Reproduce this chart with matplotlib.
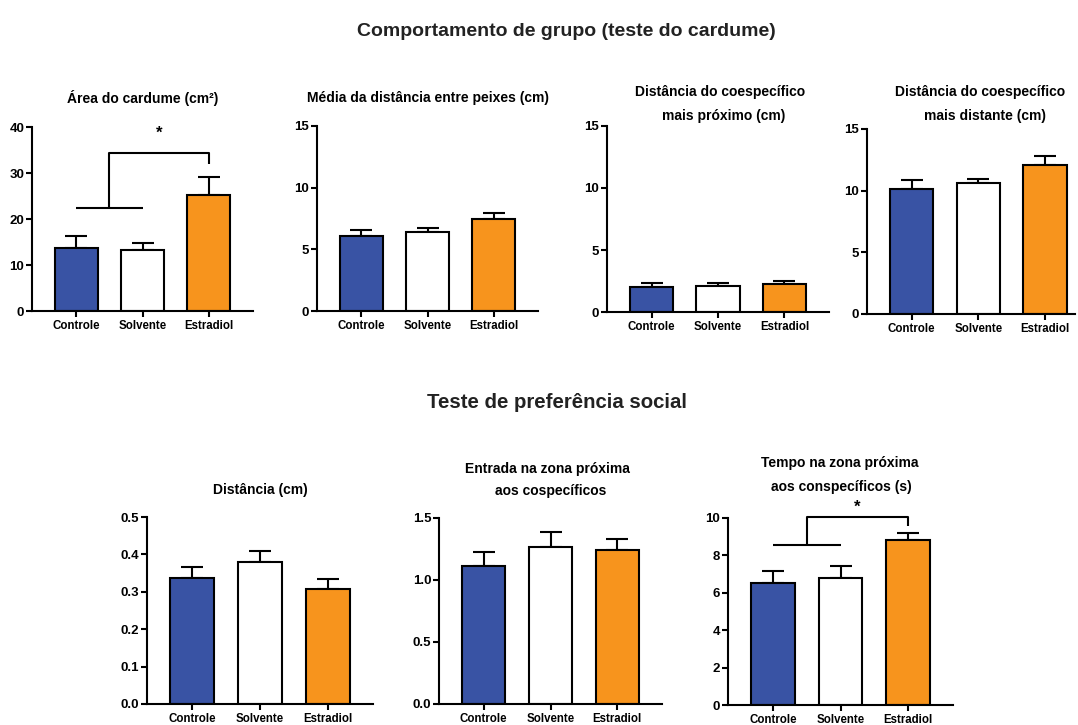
import matplotlib
matplotlib.use("Agg")
import matplotlib.pyplot as plt

plt.rcParams['font.family'] = ['Liberation Sans', 'DejaVu Sans']
plt.rcParams['font.weight'] = 'bold'

W, H = 1078, 725

groups = ["Controle", "Solvente", "Estradiol"]
bar_colors = ["#3953a4", "#ffffff", "#f7941d"]

# Shoal test (means and upper SEM)
area_mean = [13.6, 13.2, 25.3]
area_sem = [2.8, 1.6, 3.8]
mean_dist_mean = [6.1, 6.4, 7.45]
mean_dist_sem = [0.47, 0.3, 0.52]
nearest_mean = [2.02, 2.08, 2.28]
nearest_sem = [0.3, 0.22, 0.2]
farthest_mean = [10.1, 10.6, 12.1]
farthest_sem = [0.78, 0.36, 0.72]

# Social preference test
distance_mean = [0.337, 0.380, 0.308]
distance_sem = [0.029, 0.029, 0.027]
entries_mean = [1.115, 1.27, 1.244]
entries_sem = [0.107, 0.115, 0.083]
time_mean = [6.52, 6.78, 8.84]
time_sem = [0.65, 0.63, 0.36]

fig = plt.figure(figsize=(W / 100, H / 100), dpi=100)


def px_axes(left, right, bottom, top):
    return fig.add_axes([left / W, 1 - bottom / H, (right - left) / W, (bottom - top) / H])


def fig_text(x, y, s, size, **kw):
    fig.text(x / W, 1 - y / H, s, ha='center', va='center', fontsize=size,
             fontweight='bold', **kw)


def bar_panel(ax, means, sems, ymax, yticks, ticklabels, xright=2.67):
    x = list(range(len(groups)))
    ax.bar(x, means, width=0.65, color=bar_colors, edgecolor='black',
           linewidth=1.5, zorder=2)
    ax.errorbar(x, means, yerr=[[0] * len(sems), sems], fmt='none',
                ecolor='black', elinewidth=1.5, capsize=8, capthick=1.5, zorder=1)
    ax.set_xlim(-0.67, xright)
    ax.set_ylim(0, ymax)
    ax.set_xticks(x)
    ax.set_xticklabels(groups, fontsize=8.3, fontweight='bold')
    ax.set_yticks(yticks)
    ax.set_yticklabels(ticklabels, fontsize=9.5, fontweight='bold')
    for side in ('top', 'right'):
        ax.spines[side].set_visible(False)
    for side in ('left', 'bottom'):
        ax.spines[side].set_linewidth(1.5)
    ax.tick_params(axis='both', width=1.5, length=4, pad=1.5)
    ax.tick_params(axis='x', pad=2.5)
    ax.patch.set_alpha(0)


def bracket(ax, low_y, top_y, drop_y, star_y):
    kw = dict(color='black', lw=1.5, solid_capstyle='butt', clip_on=False)
    ax.plot([0, 1], [low_y, low_y], **kw)
    ax.plot([0.5, 0.5, 2, 2], [low_y, top_y, top_y, drop_y], **kw)
    ax.text(1.25, star_y, '*', ha='center', va='center', fontsize=12,
            fontweight='bold', clip_on=False)


# --- Comportamento de grupo ---
ax1 = px_axes(32, 253, 311, 127)
bar_panel(ax1, area_mean, area_sem, 40, [0, 10, 20, 30, 40],
          ['0', '10', '20', '30', '40'])
bracket(ax1, 22.4, 34.4, 32.0, 38.6)

ax2 = px_axes(317, 538, 311, 126)
bar_panel(ax2, mean_dist_mean, mean_dist_sem, 15, [0, 5, 10, 15],
          ['0', '5', '10', '15'])

ax3 = px_axes(607, 829, 312, 126)
bar_panel(ax3, nearest_mean, nearest_sem, 15, [0, 5, 10, 15],
          ['0', '5', '10', '15'])

ax4 = px_axes(867, 1075, 314, 129)
bar_panel(ax4, farthest_mean, farthest_sem, 15, [0, 5, 10, 15],
          ['0', '5', '10', '15'], xright=2.45)

# --- Teste de preferência social ---
ax5 = px_axes(147, 373, 704, 517)
bar_panel(ax5, distance_mean, distance_sem, 0.5, [0, 0.1, 0.2, 0.3, 0.4, 0.5],
          ['0.0', '0.1', '0.2', '0.3', '0.4', '0.5'])

ax6 = px_axes(439, 662, 704, 518)
bar_panel(ax6, entries_mean, entries_sem, 1.5, [0, 0.5, 1.0, 1.5],
          ['0.0', '0.5', '1.0', '1.5'])

ax7 = px_axes(728, 953, 705, 518)
bar_panel(ax7, time_mean, time_sem, 10, [0, 2, 4, 6, 8, 10],
          ['0', '2', '4', '6', '8', '10'])
bracket(ax7, 8.57, 10.04, 9.55, 10.55)

# Section headings
fig_text(566, 31, 'Comportamento de grupo (teste do cardume)', 14, color='#222222')
fig_text(557, 403, 'Teste de preferência social', 14.7, color='#222222')

# Panel titles
fig_text(143, 98, 'Área do cardume (cm²)', 10)
fig_text(428, 98, 'Média da distância entre peixes (cm)', 10)
fig_text(720, 92, 'Distância do coespecífico', 10)
fig_text(724, 116, 'mais próximo (cm)', 10)
fig_text(980, 92, 'Distância do coespecífico', 10)
fig_text(985, 116, 'mais distante (cm)', 10)
fig_text(260, 490, 'Distância (cm)', 10)
fig_text(547, 469, 'Entrada na zona próxima', 10)
fig_text(551, 491, 'aos cospecíficos', 10)
fig_text(840, 463, 'Tempo na zona próxima', 10)
fig_text(841, 487, 'aos conspecíficos (s)', 10)

fig.savefig('out.png', dpi=100)
